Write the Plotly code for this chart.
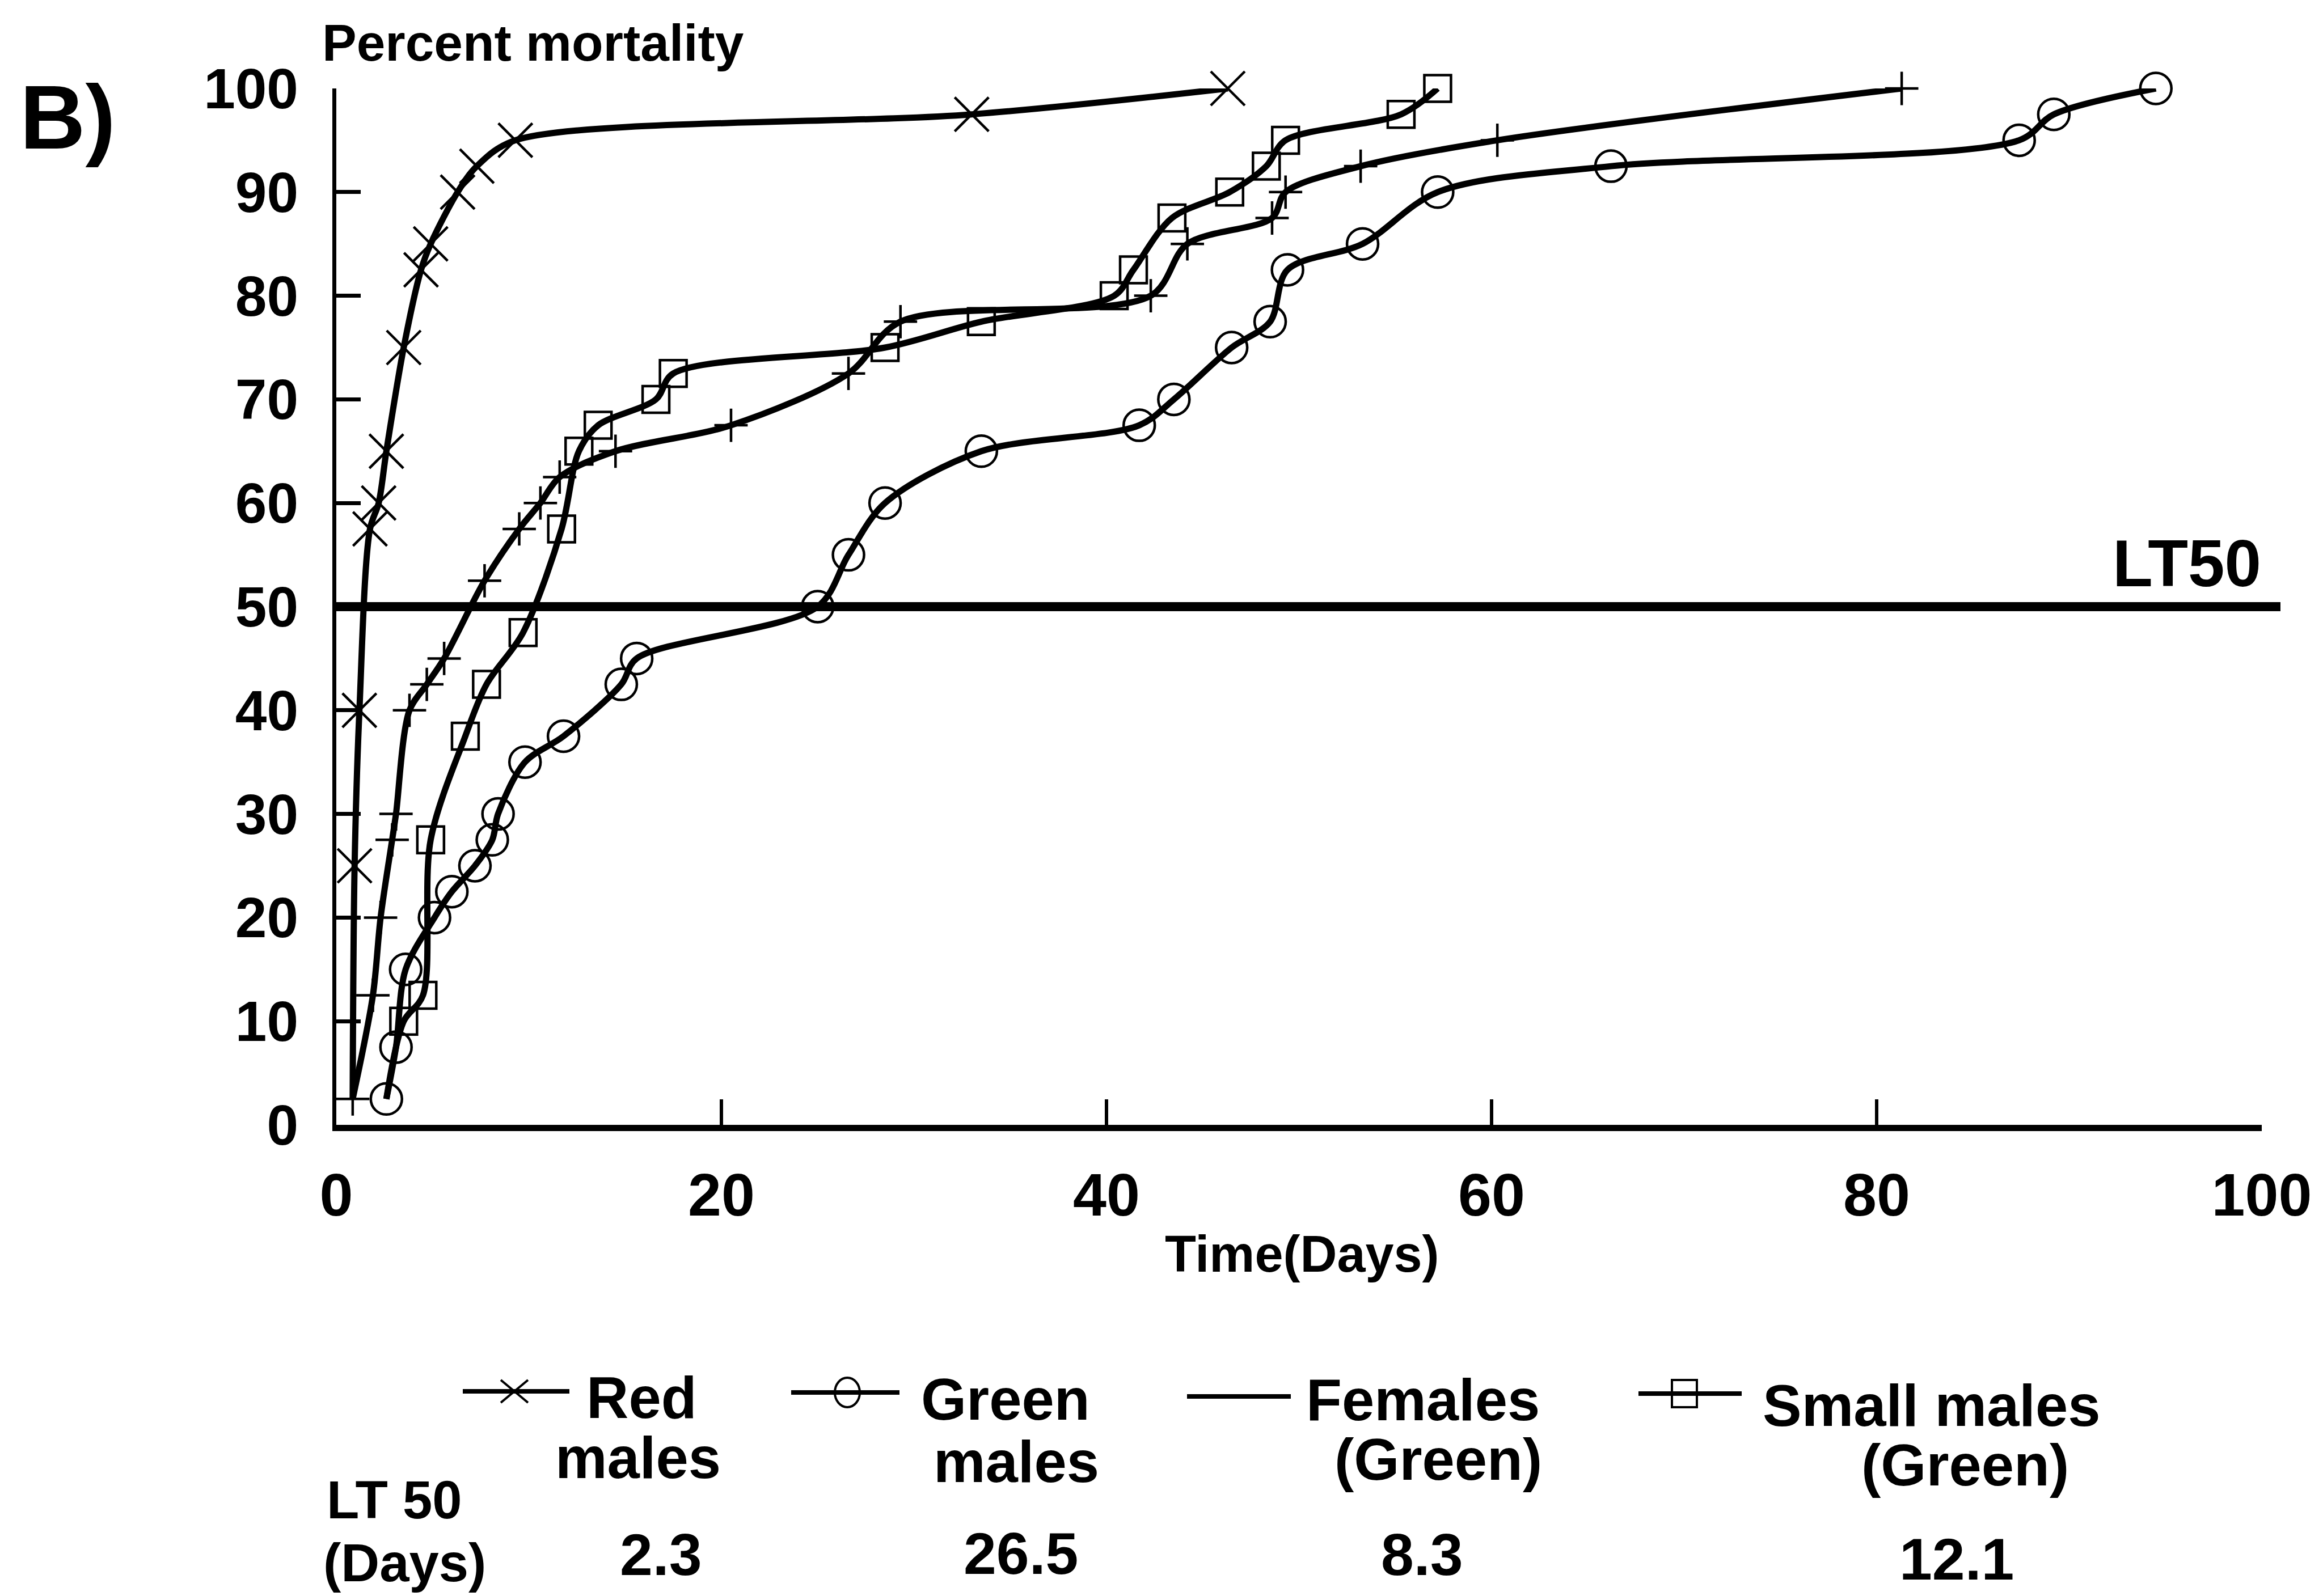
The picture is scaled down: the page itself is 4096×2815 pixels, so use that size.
import plotly.graph_objects as go

# ---- cumulative mortality (%) against time (days) ----
red_days = [0.85, 0.95, 1.2, 1.75, 2.2, 2.6, 3.5, 4.4, 4.9, 6.3, 7.3, 9.3, 33.0, 46.3]
red_pct = [2.5, 25, 40, 57.5, 60, 65, 75, 82.5, 85, 90, 92.5, 95, 97.5, 100]

green_days = [2.6, 3.1, 3.6, 5.1, 6.0, 7.2, 8.1, 8.4, 9.8, 11.8, 14.8, 15.6, 25.0, 26.6,
              28.5, 33.5, 41.7, 43.5, 46.5, 48.5, 49.4, 53.3, 57.2, 66.2, 87.4, 89.2, 94.5]
green_pct = [2.5, 7.5, 15, 20, 22.5, 25, 27.5, 30, 35, 37.5, 42.5, 45, 50, 55,
             60, 65, 67.5, 70, 75, 77.5, 82.5, 85, 90, 92.5, 95, 97.5, 100]

female_days = [0.85, 1.9, 2.3, 2.9, 3.1, 3.8, 4.7, 5.6, 7.7, 9.5, 10.6, 11.6, 14.5, 20.5,
               26.6, 29.3, 42.3, 44.2, 48.6, 49.3, 53.2, 60.3, 81.3]
female_pct = [2.5, 12.5, 20, 27.5, 30, 40, 42.5, 45, 52.5, 57.5, 60, 62.5, 65, 67.5,
              72.5, 77.5, 80, 85, 87.5, 90, 92.5, 95, 100]

small_days = [2.6, 3.5, 4.5, 4.9, 6.7, 7.8, 9.7, 11.7, 12.6, 13.6, 16.6, 17.5, 28.5, 33.5,
              40.4, 41.4, 43.4, 46.4, 48.3, 49.3, 55.3, 57.2]
small_pct = [2.5, 10, 12.5, 27.5, 37.5, 42.5, 47.5, 57.5, 65, 67.5, 70, 72.5, 75, 77.5,
             80, 82.5, 87.5, 90, 92.5, 95, 97.5, 100]

# curves whose first point carries no symbol (hidden under another group's start)
red_first_marked = 1
green_first_marked = 0
female_first_marked = 0
small_first_marked = 1

lt50_level = 50
x_ticks = [0, 20, 40, 60, 80, 100]
y_ticks = [0, 10, 20, 30, 40, 50, 60, 70, 80, 90, 100]

group_names = ["Red", "Green", "Females", "Small males"]
group_second_line = ["males", "males", "(Green)", "(Green)"]
lt50_days = ["2.3", "26.5", "8.3", "12.1"]

# ---- page geometry (pixels) ----
W, H = 4096, 2815
PL, PR, PT, PB = 593, 3988, 156, 1984
FONT = "Liberation Sans"
INK = "black"


def fx(px):
    return (px - PL) / (PR - PL)


def fy(py):
    return (PB - py) / (PB - PT)


fig = go.Figure()

series = [
    (red_days, red_pct, red_first_marked, "x-thin", 60),
    (green_days, green_pct, green_first_marked, "circle-open", 55),
    (female_days, female_pct, female_first_marked, "cross-thin", 42),
    (small_days, small_pct, small_first_marked, "square-open", 47),
]

for days, pct, first, symbol, size in series:
    fig.add_trace(go.Scatter(
        x=days, y=pct, mode="lines",
        line=dict(color=INK, width=11, shape="spline", smoothing=0.9),
        cliponaxis=False, showlegend=False, hoverinfo="skip"))
    fig.add_trace(go.Scatter(
        x=days[first:], y=pct[first:], mode="markers",
        marker=dict(symbol=symbol, size=size, color=INK,
                    line=dict(color=INK, width=4.5)),
        cliponaxis=False, showlegend=False, hoverinfo="skip"))

shapes = []
# LT50 reference line, running slightly past the last x tick
shapes.append(dict(type="line", xref="paper", yref="paper",
                   x0=0, x1=fx(4021), y0=lt50_level / 100, y1=lt50_level / 100,
                   line=dict(color=INK, width=16)))

annotations = []


def text(s, x, y, size, xanchor="center", yanchor="middle"):
    annotations.append(dict(text=s, xref="paper", yref="paper", x=fx(x), y=fy(y),
                            xanchor=xanchor, yanchor=yanchor, showarrow=False,
                            font=dict(family=FONT, size=size, color=INK, weight="bold")))


text("B)", 33, 206, 160, xanchor="left")
text("Percent mortality", 566, 75, 91, xanchor="left")
text("LT50", 3989, 994, 116, xanchor="right")
text("Time(Days)", 2296, 2212, 90)

# ---- key below the plot ----
sample_y = [2454, 2456, 2463, 2458]
sample_x = [(816, 1004), (1395, 1586), (2093, 2276), (2889, 3071)]
marker_x = [907, 1494, None, 2970]
name_x = [1131, 1773, 2509, 3405]
name_y = [2465, 2468, 2469, 2479]
second_x = [1125, 1792, 2536, 3465]
second_y = [2571, 2578, 2574, 2584]
value_x = [1165, 1800, 2507, 3450]
value_y = [2742, 2740, 2742, 2750]

for i in range(4):
    x0, x1 = sample_x[i]
    shapes.append(dict(type="line", xref="paper", yref="paper",
                       x0=fx(x0), x1=fx(x1), y0=fy(sample_y[i]), y1=fy(sample_y[i]),
                       line=dict(color=INK, width=8)))
    text(group_names[i], name_x[i], name_y[i], 103)
    text(group_second_line[i], second_x[i], second_y[i], 103)
    text(lt50_days[i], value_x[i], value_y[i], 104)

# key symbols
mx, my = marker_x[0], sample_y[0]
a, b = 24, 20
shapes.append(dict(type="path", xref="paper", yref="paper",
                   path=f"M{fx(mx - a)},{fy(my - b)} L{fx(mx + a)},{fy(my + b)} "
                        f"M{fx(mx - a)},{fy(my + b)} L{fx(mx + a)},{fy(my - b)}",
                   line=dict(color=INK, width=4)))
mx, my = marker_x[1], sample_y[1]
shapes.append(dict(type="circle", xref="paper", yref="paper",
                   x0=fx(mx - 22), x1=fx(mx + 22), y0=fy(my + 26), y1=fy(my - 26),
                   line=dict(color=INK, width=4)))
mx, my = marker_x[3], sample_y[3]
shapes.append(dict(type="rect", xref="paper", yref="paper",
                   x0=fx(mx - 22), x1=fx(mx + 22), y0=fy(my + 24), y1=fy(my - 24),
                   line=dict(color=INK, width=4)))

text("LT 50", 574, 2645, 94, xanchor="left")
text("(Days)", 568, 2756, 94, xanchor="left")

fig.update_layout(
    width=W, height=H,
    margin=dict(l=PL, r=W - PR, t=PT, b=H - PB, pad=0),
    paper_bgcolor="white", plot_bgcolor="white",
    shapes=shapes, annotations=annotations,
    xaxis=dict(range=[0, 100], tickvals=x_ticks, ticktext=[str(v) for v in x_ticks],
               showgrid=False, zeroline=False, showline=True, linecolor=INK, linewidth=11,
               ticks="inside", ticklen=45, tickwidth=6, tickcolor=INK,
               ticklabelstandoff=22,
               tickfont=dict(family=FONT, size=106, color=INK, weight="bold")),
    yaxis=dict(range=[0, 100], tickvals=y_ticks, ticktext=[str(v) for v in y_ticks],
               showgrid=False, zeroline=False, showline=True, linecolor=INK, linewidth=7,
               ticks="inside", ticklen=43, tickwidth=7, tickcolor=INK,
               ticklabelstandoff=40,
               tickfont=dict(family=FONT, size=100, color=INK, weight="bold")),
)

fig.write_html("out.html")
